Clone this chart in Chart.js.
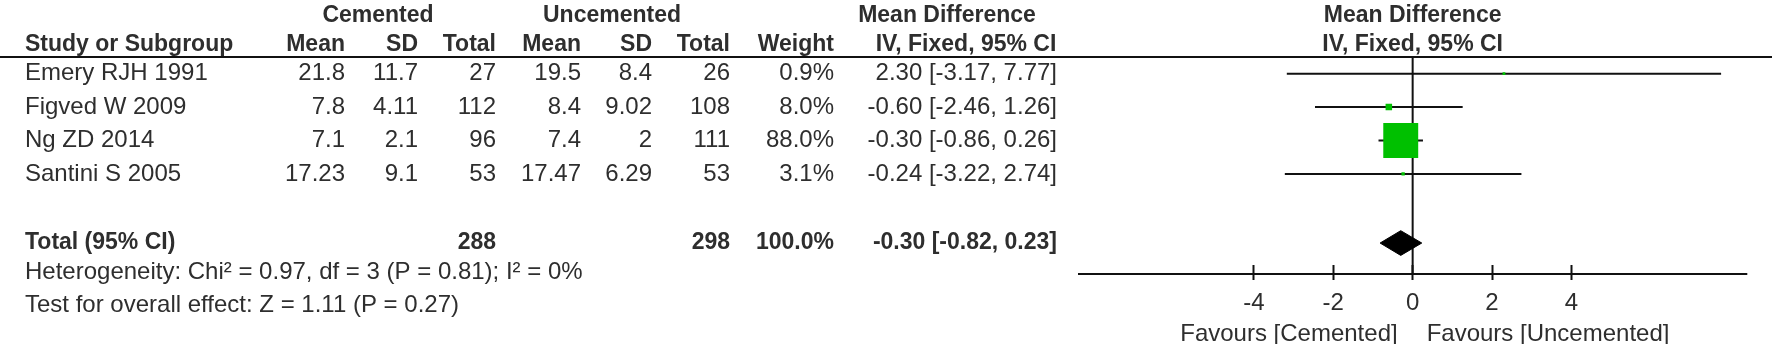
<!DOCTYPE html>
<html>
<head>
<meta charset="utf-8" />
<script src="https://cdn.jsdelivr.net/npm/chart.js@4.4.0/dist/chart.umd.min.js"></script>
<style>
  html,body{margin:0;padding:0;background:#fff;overflow:hidden;}
  #wrap{width:1772px;height:344px;position:relative;}
</style>
</head>
<body>
<div id="wrap"><canvas id="forest" width="1772" height="344"></canvas></div>
<script>
/* ---------- Data ---------- */
const studies  = ['Emery RJH 1991', 'Figved W 2009', 'Ng ZD 2014', 'Santini S 2005'];
const cemMean  = ['21.8', '7.8', '7.1', '17.23'];
const cemSD    = ['11.7', '4.11', '2.1', '9.1'];
const cemN     = [27, 112, 96, 53];
const uncMean  = ['19.5', '8.4', '7.4', '17.47'];
const uncSD    = ['8.4', '9.02', '2', '6.29'];
const uncN     = [26, 108, 111, 53];
const weights  = [0.9, 8.0, 88.0, 3.1];
const md       = [2.30, -0.60, -0.30, -0.24];
const ciLow    = [-3.17, -2.46, -0.86, -3.22];
const ciHigh   = [7.77, 1.26, 0.26, 2.74];
const totalCem = 288, totalUnc = 298, totalWeight = 100.0;
const pooledMD = -0.30, pooledLow = -0.82, pooledHigh = 0.23;
const xTicks   = [-4, -2, 0, 2, 4];
const hetText  = 'Heterogeneity: Chi\u00b2 = 0.97, df = 3 (P = 0.81); I\u00b2 = 0%';
const testText = 'Test for overall effect: Z = 1.11 (P = 0.27)';

/* ---------- Layout ---------- */
const FONT = '"Liberation Sans", Arial, sans-serif';
const FS = 24, FS_BOLD = 23;
const X_MIN = -8.43, X_MAX = 8.43;
const ROW_PX = 33.4, TOP = 57, BOTTOM = 265;
const Y_MIN = 0.5, Y_MAX = Y_MIN + (BOTTOM - TOP) / ROW_PX;
const ROW_TOTAL = 6.07, ROW_AXIS = 7;
const GREEN = '#00c000', INK = '#2e2e2e';

/* ---------- Datasets ---------- */
const squares = {
  data: md.map((v, i) => ({x: v, y: i + 1})),
  pointStyle: 'rect',
  pointRadius: c => Math.max(2, 24.7 * Math.pow(weights[c.dataIndex] / 88, 0.7)),
  backgroundColor: GREEN, borderWidth: 0, showLine: false
};
const diamond = {
  data: [
    {x: pooledLow, y: ROW_TOTAL}, {x: pooledMD, y: ROW_TOTAL - 0.37},
    {x: pooledHigh, y: ROW_TOTAL}, {x: pooledMD, y: ROW_TOTAL + 0.37},
    {x: pooledLow, y: ROW_TOTAL}
  ],
  showLine: true, fill: 'shape', backgroundColor: '#000', borderColor: '#000',
  borderWidth: 1, pointRadius: 0, tension: 0
};
const ciLines = studies.map((s, i) => ({
  data: [{x: ciLow[i], y: i + 1}, {x: ciHigh[i], y: i + 1}],
  showLine: true, borderColor: '#111', borderWidth: 2, pointRadius: 0
}));
const zeroLine = {
  data: [{x: 0, y: Y_MIN}, {x: 0, y: ROW_AXIS}],
  showLine: true, borderColor: '#111', borderWidth: 2, pointRadius: 0, clip: false
};
const axisLine = {
  data: [{x: X_MIN, y: ROW_AXIS}, {x: X_MAX, y: ROW_AXIS}],
  showLine: true, borderColor: '#111', borderWidth: 2, pointRadius: 0, clip: false
};

/* ---------- Table text plugin ---------- */
function txt(ctx, s, x, y, align, bold) {
  ctx.font = bold ? 'bold ' + FS_BOLD + 'px ' + FONT : FS + 'px ' + FONT;
  ctx.textAlign = align;
  ctx.textBaseline = 'middle';
  ctx.fillStyle = INK;
  ctx.fillText(s, x, y);
}

const tablePlugin = {
  id: 'table',
  afterDraw(chart) {
    const ctx = chart.ctx, ys = chart.scales.y, xs = chart.scales.x;
    const py = v => ys.getPixelForValue(v);
    ctx.save();
    // header rule
    ctx.strokeStyle = '#111'; ctx.lineWidth = 2;
    ctx.beginPath(); ctx.moveTo(0, TOP); ctx.lineTo(1772, TOP); ctx.stroke();

    const cols = {name: 25, cm: 345, csd: 418, cn: 496, um: 581, usd: 652, un: 730, w: 834, ci: 1057};
    // group headers
    const h1 = py(-0.74), h2 = py(0.12);
    txt(ctx, 'Cemented', 378, h1, 'center', true);
    txt(ctx, 'Uncemented', 612, h1, 'center', true);
    txt(ctx, 'Mean Difference', 947, h1, 'center', true);
    txt(ctx, 'Mean Difference', xs.getPixelForValue(0), h1, 'center', true);
    txt(ctx, 'Study or Subgroup', cols.name, h2, 'left', true);
    txt(ctx, 'Mean', cols.cm, h2, 'right', true);
    txt(ctx, 'SD', cols.csd, h2, 'right', true);
    txt(ctx, 'Total', cols.cn, h2, 'right', true);
    txt(ctx, 'Mean', cols.um, h2, 'right', true);
    txt(ctx, 'SD', cols.usd, h2, 'right', true);
    txt(ctx, 'Total', cols.un, h2, 'right', true);
    txt(ctx, 'Weight', cols.w, h2, 'right', true);
    txt(ctx, 'IV, Fixed, 95% CI', 966, h2, 'center', true);
    txt(ctx, 'IV, Fixed, 95% CI', xs.getPixelForValue(0), h2, 'center', true);

    studies.forEach((s, i) => {
      const y = py(i + 1);
      txt(ctx, s, cols.name, y, 'left');
      txt(ctx, cemMean[i], cols.cm, y, 'right');
      txt(ctx, cemSD[i], cols.csd, y, 'right');
      txt(ctx, String(cemN[i]), cols.cn, y, 'right');
      txt(ctx, uncMean[i], cols.um, y, 'right');
      txt(ctx, uncSD[i], cols.usd, y, 'right');
      txt(ctx, String(uncN[i]), cols.un, y, 'right');
      txt(ctx, weights[i].toFixed(1) + '%', cols.w, y, 'right');
      txt(ctx, md[i].toFixed(2) + ' [' + ciLow[i].toFixed(2) + ', ' + ciHigh[i].toFixed(2) + ']', cols.ci, y, 'right');
    });

    const yt = py(ROW_TOTAL);
    txt(ctx, 'Total (95% CI)', cols.name, yt, 'left', true);
    txt(ctx, String(totalCem), cols.cn, yt, 'right', true);
    txt(ctx, String(totalUnc), cols.un, yt, 'right', true);
    txt(ctx, totalWeight.toFixed(1) + '%', cols.w, yt, 'right', true);
    txt(ctx, pooledMD.toFixed(2) + ' [' + pooledLow.toFixed(2) + ', ' + pooledHigh.toFixed(2) + ']', cols.ci, yt, 'right', true);

    txt(ctx, hetText, cols.name, py(6.94), 'left');
    txt(ctx, testText, cols.name, py(7.93), 'left');

    const x0 = xs.getPixelForValue(0), yf = py(8.8);
    txt(ctx, 'Favours [Cemented]', x0 - 15, yf, 'right');
    txt(ctx, 'Favours [Uncemented]', x0 + 14, yf, 'left');
    ctx.restore();
  }
};

/* ---------- Chart ---------- */
new Chart(document.getElementById('forest'), {
  type: 'scatter',
  data: {datasets: [squares, diamond, ...ciLines, zeroLine, axisLine]},
  options: {
    responsive: false, animation: false, events: [],
    layout: {padding: {left: 1078, right: 24, top: TOP, bottom: 0}},
    plugins: {legend: {display: false}, tooltip: {enabled: false}},
    scales: {
      x: {
        type: 'linear', min: X_MIN, max: X_MAX,
        afterBuildTicks: s => { s.ticks = xTicks.map(v => ({value: v})); },
        afterFit: s => { s.height = 344 - BOTTOM; },
        border: {display: false},
        grid: {drawOnChartArea: false, drawTicks: true, tickLength: 15, tickWidth: 2, tickColor: '#111'},
        ticks: {font: {family: FONT, size: FS}, color: INK, padding: 9, maxRotation: 0, autoSkip: false}
      },
      y: {type: 'linear', reverse: true, min: Y_MIN, max: Y_MAX, display: false}
    }
  },
  plugins: [tablePlugin]
});
</script>
</body>
</html>
